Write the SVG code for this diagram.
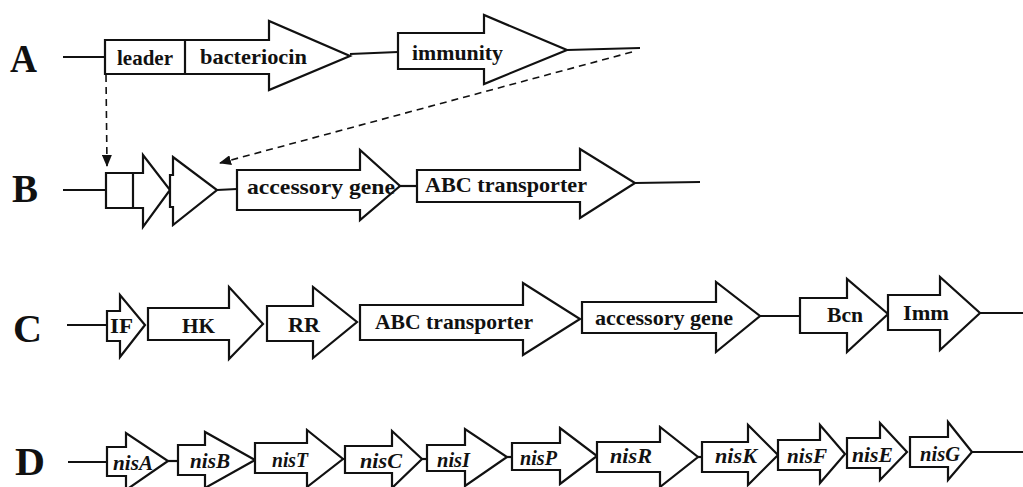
<svg xmlns="http://www.w3.org/2000/svg" width="1023" height="487" viewBox="0 0 1023 487">
<style>
.g{fill:#fff;stroke:#111;stroke-width:2.2;stroke-linejoin:miter}
.ln{stroke:#111;stroke-width:2.2;fill:none}
.ds{stroke:#111;stroke-width:1.6;fill:none;stroke-dasharray:7,5}
text{font-family:'Liberation Serif','Times New Roman',serif;font-weight:bold;fill:#111}
.t{font-size:22px}
.i{font-style:italic}
.L{font-size:40px}
</style>
<defs>
<marker id="ah" viewBox="0 0 12 10" refX="11" refY="5" markerWidth="12" markerHeight="10" markerUnits="userSpaceOnUse" orient="auto">
<path d="M0,0 L12,5 L0,10 Z" fill="#111"/>
</marker>
</defs>
<g id="labels">
<text class="L" x="10" y="72" textLength="27" lengthAdjust="spacingAndGlyphs">A</text>
<text class="L" x="12" y="202" textLength="26" lengthAdjust="spacingAndGlyphs">B</text>
<text class="L" x="13" y="342" textLength="29" lengthAdjust="spacingAndGlyphs">C</text>
<text class="L" x="15" y="475" textLength="30" lengthAdjust="spacingAndGlyphs">D</text>
</g>
<g id="connectors">
<line class="ln" x1="63" y1="57" x2="105" y2="57"/>
<line class="ln" x1="350" y1="54" x2="398" y2="52"/>
<line class="ln" x1="567" y1="50" x2="640" y2="48"/>
<line class="ds" x1="106" y1="75" x2="107" y2="166" marker-end="url(#ah)"/>
<line class="ds" x1="632" y1="52" x2="220" y2="163" marker-end="url(#ah)"/>
<line class="ln" x1="63" y1="190" x2="106" y2="190"/>
<line class="ln" x1="217" y1="190" x2="237" y2="189"/>
<line class="ln" x1="400" y1="186" x2="417" y2="186"/>
<line class="ln" x1="635" y1="183" x2="700" y2="182"/>
<line class="ln" x1="67" y1="325" x2="107" y2="325"/>
<line class="ln" x1="760" y1="316" x2="800" y2="316"/>
<line class="ln" x1="980" y1="313" x2="1023" y2="313"/>
<line class="ln" x1="68" y1="462" x2="107" y2="462"/>
<line class="ln" x1="168" y1="461" x2="178" y2="461"/>
<line class="ln" x1="343" y1="459" x2="345" y2="459"/>
<line class="ln" x1="422" y1="459" x2="427" y2="459"/>
<line class="ln" x1="507" y1="457" x2="512" y2="457"/>
<line class="ln" x1="698" y1="457" x2="702" y2="457"/>
<line class="ln" x1="972" y1="452" x2="1023" y2="452"/>
</g>
<g id="A-bacteriocin">
<path class="g" d="M105,40 L269,40 L269,21 L350,56 L269,90 L269,74 L105,74 Z"/>
<line class="ln" x1="185" y1="40" x2="185" y2="74"/>
<text class="t" x="117" y="65" textLength="56" lengthAdjust="spacingAndGlyphs">leader</text>
<text class="t" x="200" y="64" textLength="107" lengthAdjust="spacingAndGlyphs">bacteriocin</text>
</g>
<g id="A-immunity">
<path class="g" d="M398,33 L484,33 L484,15 L567,50 L484,84 L484,69 L398,69 Z"/>
<text class="t" x="412" y="60" textLength="91" lengthAdjust="spacingAndGlyphs">immunity</text>
</g>
<g id="B-gene1">
<path class="g" d="M106,173 L143,173 L143,155 L170,190 L143,227 L143,208 L106,208 Z"/>
<line class="ln" x1="133" y1="173" x2="133" y2="208"/>
</g>
<g id="B-gene2">
<path class="g" d="M170,175 L173,175 L173,157 L217,190 L173,225 L173,207 L170,207 Z"/>
</g>
<g id="B-accessory">
<path class="g" d="M237,170 L360,170 L360,150 L400,186 L360,220 L360,210 L237,210 Z"/>
<text class="t" x="247" y="194" textLength="148" lengthAdjust="spacingAndGlyphs">accessory gene</text>
</g>
<g id="B-abc">
<path class="g" d="M417,170 L580,170 L580,149 L635,183 L580,218 L580,202 L417,202 Z"/>
<text class="t" x="425" y="192" textLength="162" lengthAdjust="spacingAndGlyphs">ABC transporter</text>
</g>
<g id="C-IF">
<path class="g" d="M107,311 L120,311 L120,295 L145,325 L120,357 L120,341 L107,341 Z"/>
<text class="t" x="110" y="333" textLength="23" lengthAdjust="spacingAndGlyphs">IF</text>
</g>
<g id="C-HK">
<path class="g" d="M148,308 L229,308 L229,287 L263,324 L229,359 L229,340 L148,340 Z"/>
<text class="t" x="182" y="333" textLength="33" lengthAdjust="spacingAndGlyphs">HK</text>
</g>
<g id="C-RR">
<path class="g" d="M267,306 L313,306 L313,287 L357,322 L313,358 L313,341 L267,341 Z"/>
<text class="t" x="288" y="332" textLength="32" lengthAdjust="spacingAndGlyphs">RR</text>
</g>
<g id="C-ABC">
<path class="g" d="M360,305 L523,305 L523,283 L580,319 L523,355 L523,340 L360,340 Z"/>
<text class="t" x="375" y="329" textLength="158" lengthAdjust="spacingAndGlyphs">ABC transporter</text>
</g>
<g id="C-accessory">
<path class="g" d="M582,302 L716,302 L716,282 L760,316 L716,352 L716,333 L582,333 Z"/>
<text class="t" x="595" y="325" textLength="138" lengthAdjust="spacingAndGlyphs">accessory gene</text>
</g>
<g id="C-Bcn">
<path class="g" d="M800,298 L847,298 L847,279 L888,314 L847,352 L847,333 L800,333 Z"/>
<text class="t" x="827" y="322" textLength="36" lengthAdjust="spacingAndGlyphs">Bcn</text>
</g>
<g id="C-Imm">
<path class="g" d="M888,295 L940,295 L940,277 L980,313 L940,350 L940,330 L888,330 Z"/>
<text class="t" x="903" y="320" textLength="46" lengthAdjust="spacingAndGlyphs">Imm</text>
</g>
<g id="D-nisA">
<path class="g" d="M107,447 L126,447 L126,433 L168,461 L126,490 L126,476 L107,476 Z"/>
<text class="t i" x="113" y="470" textLength="40" lengthAdjust="spacingAndGlyphs">nisA</text>
</g>
<g id="D-nisB">
<path class="g" d="M178,445 L205,445 L205,432 L255,460 L205,488 L205,475 L178,475 Z"/>
<text class="t i" x="190" y="468" textLength="40" lengthAdjust="spacingAndGlyphs">nisB</text>
</g>
<g id="D-nisT">
<path class="g" d="M255,443 L307,443 L307,430 L343,459 L307,487 L307,473 L255,473 Z"/>
<text class="t i" x="272" y="467" textLength="36" lengthAdjust="spacingAndGlyphs">nisT</text>
</g>
<g id="D-nisC">
<path class="g" d="M345,446 L392,446 L392,431 L422,459 L392,488 L392,473 L345,473 Z"/>
<text class="t i" x="360" y="468" textLength="42" lengthAdjust="spacingAndGlyphs">nisC</text>
</g>
<g id="D-nisI">
<path class="g" d="M427,445 L465,445 L465,429 L507,457 L465,486 L465,471 L427,471 Z"/>
<text class="t i" x="437" y="467" textLength="33" lengthAdjust="spacingAndGlyphs">nisI</text>
</g>
<g id="D-nisP">
<path class="g" d="M512,443 L560,443 L560,428 L597,456 L560,484 L560,470 L512,470 Z"/>
<text class="t i" x="520" y="465" textLength="37" lengthAdjust="spacingAndGlyphs">nisP</text>
</g>
<g id="D-nisR">
<path class="g" d="M597,442 L660,442 L660,427 L698,457 L660,487 L660,472 L597,472 Z"/>
<text class="t i" x="610" y="463" textLength="42" lengthAdjust="spacingAndGlyphs">nisR</text>
</g>
<g id="D-nisK">
<path class="g" d="M702,442 L748,442 L748,425 L778,455 L748,485 L748,472 L702,472 Z"/>
<text class="t i" x="715" y="463" textLength="42" lengthAdjust="spacingAndGlyphs">nisK</text>
</g>
<g id="D-nisF">
<path class="g" d="M778,440 L820,440 L820,425 L845,454 L820,483 L820,470 L778,470 Z"/>
<text class="t i" x="787" y="463" textLength="40" lengthAdjust="spacingAndGlyphs">nisF</text>
</g>
<g id="D-nisE">
<path class="g" d="M847,438 L880,438 L880,423 L907,452 L880,480 L880,468 L847,468 Z"/>
<text class="t i" x="852" y="462" textLength="41" lengthAdjust="spacingAndGlyphs">nisE</text>
</g>
<g id="D-nisG">
<path class="g" d="M910,437 L948,437 L948,422 L972,452 L948,480 L948,467 L910,467 Z"/>
<text class="t i" x="920" y="461" textLength="40" lengthAdjust="spacingAndGlyphs">nisG</text>
</g>
</svg>
